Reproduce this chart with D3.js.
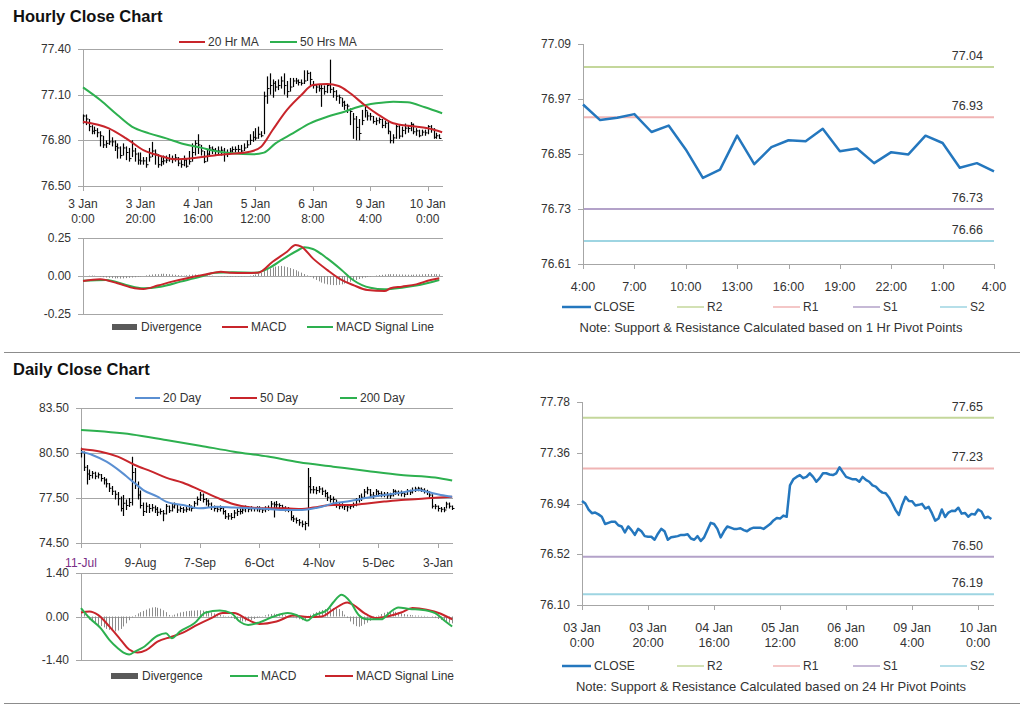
<!DOCTYPE html>
<html>
<head>
<meta charset="utf-8">
<script src="https://cdn.jsdelivr.net/npm/d3@7"></script>
<style>
body { margin: 0; background: #fff; }
svg text { font-family: "Liberation Sans", Arial, sans-serif; fill: #333; }
</style>
</head>
<body>
<svg id="chart" width="1024" height="706"></svg>
<script>
// ---- hourly data (3 Jan 0:00 .. 10 Jan 4:00, trading hours) ----
const hourClose = [76.96,76.94,76.89,76.86,76.865,76.85,76.83,76.77,76.78,76.79,
  76.79,76.76,76.75,76.70,76.75,76.72,76.68,76.73,76.71,76.67,
  76.665,76.665,76.64,76.69,76.73,76.71,76.64,76.66,76.665,76.67,
  76.68,76.68,76.685,76.65,76.64,76.67,76.63,76.66,76.72,76.78,
  76.77,76.73,76.66,76.71,76.75,76.74,76.73,76.73,76.735,76.72,
  76.71,76.73,76.74,76.74,76.74,76.73,76.75,76.77,76.80,76.82,
  76.815,76.84,76.83,77.09,77.14,77.16,77.175,77.15,77.16,77.19,
  77.16,77.12,77.15,77.19,77.19,77.18,77.175,77.19,77.24,77.20,
  77.16,77.15,77.14,77.14,77.12,77.16,77.135,77.12,77.09,77.08,
  77.05,77.03,77.025,76.99,76.94,76.885,76.845,76.93,76.995,76.96,
  76.958,76.924,76.929,76.937,76.898,76.912,76.860,76.798,76.816,76.890,
  76.828,76.865,76.880,76.878,76.905,76.856,76.862,76.830,76.854,76.849,
  76.890,76.874,76.820,76.830,76.812];
const hourHigh = [76.97,76.97,76.94,76.90,76.89,76.88,76.86,76.83,76.80,76.87,
  76.82,76.80,76.78,76.76,76.78,76.76,76.75,76.80,76.75,76.72,
  76.72,76.69,76.69,76.75,76.79,76.74,76.71,76.69,76.70,76.70,
  76.71,76.70,76.71,76.69,76.67,76.70,76.68,76.73,76.78,76.80,
  76.84,76.77,76.73,76.74,76.77,76.76,76.75,76.76,76.76,76.75,
  76.74,76.75,76.76,76.76,76.77,76.77,76.78,76.80,76.84,76.86,
  76.88,76.89,76.86,77.12,77.22,77.24,77.20,77.19,77.20,77.22,
  77.24,77.19,77.21,77.21,77.21,77.20,77.20,77.26,77.26,77.25,
  77.19,77.17,77.17,77.17,77.16,77.17,77.33,77.15,77.13,77.10,
  77.08,77.06,77.04,77.01,76.98,76.96,76.94,77.00,77.02,76.99,
  76.98,76.96,76.95,76.95,76.94,76.93,76.92,76.86,76.84,76.91,
  76.90,76.89,76.91,76.90,76.92,76.91,76.88,76.87,76.87,76.87,
  76.90,76.90,76.88,76.85,76.84];
const hourLow = [76.91,76.90,76.86,76.84,76.84,76.82,76.76,76.75,76.75,76.77,
  76.76,76.73,76.68,76.68,76.70,76.67,76.66,76.69,76.66,76.64,
  76.64,76.64,76.62,76.66,76.69,76.64,76.62,76.63,76.64,76.65,
  76.66,76.65,76.66,76.63,76.62,76.63,76.62,76.64,76.66,76.70,
  76.71,76.70,76.65,76.66,76.70,76.71,76.70,76.71,76.70,76.66,
  76.69,76.71,76.72,76.72,76.72,76.72,76.73,76.75,76.77,76.79,
  76.80,76.81,76.82,76.84,77.04,77.10,77.08,77.12,77.13,77.14,
  77.10,77.08,77.12,77.15,77.17,77.16,77.16,77.17,77.19,77.16,
  77.14,77.11,77.12,77.02,77.10,77.11,77.11,77.08,77.06,77.04,
  77.02,77.00,76.98,76.90,76.81,76.80,76.80,76.90,76.95,76.93,
  76.93,76.91,76.90,76.91,76.88,76.88,76.84,76.78,76.78,76.81,
  76.81,76.82,76.84,76.85,76.86,76.84,76.83,76.82,76.83,76.83,
  76.84,76.85,76.81,76.81,76.81];
const hourMa20 = [[0,76.922],[9,76.879],[15,76.813],[21,76.736],[27,76.697],[32,76.675],
  [38,76.682],[44,76.697],[51,76.71],[58,76.725],[62,76.758],[66,76.868],[71,77.0],
  [76,77.098],[80,77.163],[85,77.17],[89,77.157],[93,77.109],[98,77.032],[103,76.966],
  [108,76.912],[114,76.894],[120,76.879],[125,76.853]];
const hourMa50 = [[0,77.148],[6,77.065],[12,76.966],[17,76.89],[23,76.846],[29,76.813],
  [35,76.776],[41,76.752],[46,76.73],[52,76.715],[59,76.708],[63,76.719],[67,76.78],
  [73,76.846],[79,76.912],[85,76.955],[91,76.988],[96,77.021],[102,77.043],[108,77.054],
  [113,77.05],[119,77.017],[125,76.978]];
const hourMacd = [[0,-0.033],[6,-0.022],[12,-0.048],[18,-0.081],[21,-0.085],[26,-0.063],
  [31,-0.037],[37,-0.011],[43,0.011],[48,0.028],[51,0.022],[57,0.020],[61,0.022],
  [66,0.094],[71,0.16],[74,0.204],[76,0.193],[80,0.116],[85,0.04],[90,-0.026],
  [94,-0.059],[99,-0.092],[105,-0.098],[107,-0.081],[111,-0.07],[116,-0.055],
  [121,-0.026],[124,-0.015]];
const hourSignal = [[0,-0.031],[8,-0.026],[15,-0.059],[21,-0.081],[27,-0.07],[34,-0.037],
  [41,-0.004],[46,0.022],[52,0.024],[60,0.022],[65,0.055],[70,0.116],[75,0.171],
  [77,0.189],[80,0.178],[85,0.116],[90,0.04],[94,-0.026],[100,-0.077],[105,-0.087],
  [111,-0.077],[116,-0.063],[124,-0.026]];
const hourDiverg = [0,0,0.002,0.003,0.002,0,-0.004,-0.008,-0.01,-0.012,
  -0.014,-0.016,-0.015,-0.017,-0.016,-0.014,-0.012,-0.01,-0.008,-0.005,
  -0.003,0,0.004,0.008,0.01,0.012,0.012,0.014,0.015,0.013,
  0.012,0.01,0.008,0.006,0.004,0.002,0.005,0.008,0.009,0.01,
  0.008,0.006,0.004,0.003,0.002,0.002,0,-0.002,-0.003,-0.004,
  -0.004,-0.005,-0.004,-0.004,-0.003,-0.003,-0.002,0,0.002,0.006,
  0.01,0.014,0.02,0.032,0.042,0.05,0.057,0.062,0.065,0.066,
  0.063,0.058,0.052,0.045,0.038,0.03,0.022,0.013,0.004,-0.006,
  -0.016,-0.026,-0.035,-0.043,-0.05,-0.055,-0.058,-0.06,-0.06,-0.058,
  -0.055,-0.05,-0.045,-0.038,-0.032,-0.026,-0.02,-0.015,-0.01,-0.006,
  -0.003,0,0.003,0.006,0.008,0.01,0.012,0.012,0.012,0.011,
  0.01,0.01,0.009,0.009,0.008,0.009,0.01,0.01,0.011,0.012,
  0.013,0.013,0.012,0.012,0.011];
const hourTickIdx = [0, 20, 40, 60, 80, 100, 120];
const hourTickDay = ["3 Jan", "3 Jan", "4 Jan", "5 Jan", "6 Jan", "9 Jan", "10 Jan"];
const hourTickDay2 = ["03 Jan", "03 Jan", "04 Jan", "05 Jan", "06 Jan", "09 Jan", "10 Jan"];
const hourTickTime = ["0:00", "20:00", "16:00", "12:00", "8:00", "4:00", "0:00"];
const hourPriceTicks = [76.50, 76.80, 77.10, 77.40];
const hourMacdTicks = [-0.25, 0, 0.25];

// ---- 1 hr pivot panel (last 24 hours) ----
const pivotStart = 100;
const pivotTickIdx = [0, 3, 6, 9, 12, 15, 18, 21, 24];
const pivotTickLabels = ["4:00", "7:00", "10:00", "13:00", "16:00", "19:00", "22:00", "1:00", "4:00"];
const pivotHourTicks = [76.61, 76.73, 76.85, 76.97, 77.09];
const pivotHourLevels = [77.04, 76.93, 76.73, 76.66];
const pivotDayTicks = [76.10, 76.52, 76.94, 77.36, 77.78];
const pivotDayLevels = [77.65, 77.23, 76.50, 76.19];
const levelNames = ["R2", "R1", "S1", "S2"];

// ---- daily data (11 Jul .. 10 Jan, weekdays) ----
const dayClose = [80.55,79.55,79.10,79.00,79.15,78.95,79.05,78.80,78.70,78.45,
  78.15,77.95,77.75,77.45,76.80,77.15,77.00,77.20,79.20,78.40,
  77.70,77.00,76.60,76.95,76.80,76.85,76.75,76.55,76.60,76.45,
  76.95,76.65,76.90,77.05,76.70,76.80,76.70,76.75,76.95,76.80,
  77.15,77.40,77.70,77.40,77.30,77.10,76.90,76.80,76.75,76.80,
  76.60,76.25,76.30,76.20,76.50,76.60,76.60,76.70,76.85,76.75,
  76.80,76.80,76.80,76.75,76.70,76.75,76.80,77.10,77.05,77.05,
  77.00,76.85,76.75,76.75,76.20,76.10,76.00,75.85,75.75,75.80,
  78.25,78.05,78.05,78.00,78.10,77.95,77.80,77.55,77.40,77.40,
  77.05,76.95,77.00,76.95,76.90,76.95,77.00,77.35,77.45,77.55,
  77.90,78.05,77.70,77.65,77.95,77.80,77.75,77.75,77.65,77.65,
  77.95,77.90,77.85,77.80,77.75,77.95,77.90,78.00,78.10,78.15,
  78.05,77.95,77.90,77.70,76.95,76.95,76.80,76.75,76.70,77.10,
  76.95,76.80];
const dayHigh = [80.85,80.60,79.70,79.40,79.30,79.25,79.20,79.10,78.90,78.80,
  78.50,78.30,78.00,77.90,77.60,77.70,77.40,77.50,80.25,79.50,
  78.60,78.00,77.20,77.20,77.10,77.10,77.00,76.90,76.80,76.70,
  77.10,77.00,77.10,77.20,77.10,76.95,76.90,76.95,77.10,77.00,
  77.30,77.60,77.90,77.80,77.50,77.40,77.20,77.00,76.95,77.00,
  76.90,76.70,76.50,76.50,76.70,76.80,76.80,76.90,77.00,76.95,
  76.95,76.90,76.95,76.95,76.85,76.95,77.00,77.30,77.25,77.30,
  77.15,77.05,76.95,76.90,76.80,76.35,76.20,76.10,76.00,75.95,
  79.50,78.90,78.30,78.25,78.30,78.20,78.05,77.90,77.70,77.60,
  77.40,77.20,77.15,77.10,77.10,77.10,77.20,77.50,77.70,77.80,
  78.10,78.25,78.10,77.90,78.10,78.00,77.95,77.90,77.90,77.85,
  78.10,78.05,78.00,78.00,77.95,78.10,78.05,78.20,78.25,78.25,
  78.20,78.15,78.05,77.95,77.75,77.10,77.00,76.90,76.90,77.25,
  77.20,77.00];
const dayLow = [80.20,79.30,78.40,78.70,78.80,78.75,78.80,78.60,78.40,78.20,
  77.90,77.70,77.40,77.00,76.60,76.30,76.70,76.90,77.00,78.10,
  77.40,76.80,76.30,76.50,76.50,76.60,76.50,76.30,76.40,75.95,
  76.40,76.50,76.60,76.80,76.50,76.55,76.50,76.55,76.65,76.60,
  76.80,77.00,77.30,77.20,77.00,76.90,76.70,76.60,76.55,76.60,
  76.40,76.10,76.05,76.05,76.15,76.30,76.40,76.45,76.55,76.55,
  76.60,76.60,76.60,76.55,76.50,76.55,76.65,76.70,76.20,76.80,
  76.80,76.70,76.60,76.55,76.00,75.90,75.80,75.65,75.55,75.35,
  75.60,77.80,77.80,77.75,77.85,77.70,77.55,77.30,77.20,77.15,
  76.85,76.75,76.80,76.70,76.60,76.75,76.85,76.95,77.20,77.30,
  77.50,77.75,77.50,77.45,77.60,77.60,77.55,77.55,77.45,77.45,
  77.60,77.70,77.65,77.60,77.55,77.70,77.70,77.80,77.90,77.95,
  77.90,77.80,77.70,77.50,76.80,76.75,76.60,76.55,76.55,76.80,
  76.80,76.70];
const dayMa20 = [[0,80.59],[4,80.37],[9,79.92],[14,79.26],[19,78.48],[22,78.03],[27,77.59],
  [30,77.26],[36,77.03],[42,76.81],[48,76.92],[54,76.86],[60,76.81],[66,76.77],[72,76.70],
  [78,76.70],[81,76.77],[85,76.92],[89,77.14],[95,77.30],[101,77.52],[107,77.70],
  [113,77.86],[119,78.03],[122,77.92],[127,77.70],[131,77.59]];
const dayMa50 = [[0,80.77],[7,80.59],[13,80.26],[19,79.70],[25,79.26],[30,78.86],[36,78.52],
  [42,78.03],[48,77.52],[54,77.08],[60,76.86],[66,76.81],[72,76.81],[78,76.77],[82,76.86],
  [89,77.03],[95,77.03],[101,77.14],[107,77.26],[113,77.37],[119,77.43],[125,77.52],[131,77.59]];
const dayMa200 = [[0,82.03],[18,81.74],[30,81.37],[42,80.99],[54,80.59],[66,80.26],[77,79.88],
  [89,79.59],[101,79.30],[113,79.03],[125,78.86],[131,78.66]];
const dayMacd = [[0,0.27],[3,-0.05],[7,-0.38],[10,-0.75],[13,-1.02],[15,-1.16],[17,-1.22],
  [19,-1.13],[22,-0.99],[27,-0.62],[30,-0.54],[32,-0.70],[35,-0.48],[40,-0.22],[44,0.13],
  [49,0.19],[53,0.11],[56,-0.16],[59,-0.27],[63,-0.19],[68,0],[73,0.11],[76,0.05],
  [80,-0.13],[82,0.02],[87,0.22],[89,0.45],[92,0.70],[95,0.48],[98,0.05],[101,-0.09],
  [106,-0.09],[109,0.13],[112,0.29],[116,0.24],[120,0.22],[125,0.11],[128,-0.11],[131,-0.32]];
const daySignal = [[0,0.13],[3,0.16],[6,0.05],[10,-0.32],[14,-0.75],[17,-1.06],[20,-1.16],
  [23,-1.08],[27,-0.81],[32,-0.65],[36,-0.52],[41,-0.27],[46,-0.05],[50,0.11],[54,0.11],
  [59,-0.11],[63,-0.24],[69,-0.16],[75,0.03],[80,-0.02],[85,0],[89,0.22],[94,0.45],
  [96,0.38],[100,0.11],[104,-0.05],[108,0],[113,0.13],[117,0.27],[122,0.22],[127,0.09],[131,-0.09]];
const dayDiverg = [0.12,0.08,-0.02,-0.10,-0.16,-0.22,-0.27,-0.31,-0.35,-0.40,
  -0.43,-0.46,-0.48,-0.45,-0.40,-0.32,-0.22,-0.12,-0.03,0.04,
  0.10,0.14,0.18,0.22,0.26,0.29,0.30,0.28,0.25,0.20,
  0.14,0.05,0.03,0.06,0.10,0.13,0.15,0.17,0.18,0.19,
  0.19,0.20,0.20,0.19,0.18,0.16,0.13,0.10,0.07,0.05,
  0.03,0.01,-0.02,-0.05,-0.08,-0.11,-0.14,-0.16,-0.16,-0.14,
  -0.11,-0.08,-0.05,-0.02,0.01,0.04,0.07,0.08,0.09,0.08,
  0.07,0.06,0.04,0.02,0.0,-0.03,-0.06,-0.09,-0.12,-0.10,
  0.02,0.06,0.10,0.14,0.18,0.21,0.24,0.26,0.27,0.27,
  0.26,0.24,0.18,0.06,-0.05,-0.16,-0.25,-0.31,-0.33,-0.30,
  -0.25,-0.20,-0.14,-0.08,-0.03,0.03,0.08,0.12,0.15,0.16,
  0.16,0.15,0.13,0.10,0.08,0.06,0.05,0.04,0.03,0.03,
  0.02,0.02,0.01,0.0,-0.02,-0.05,-0.08,-0.11,-0.14,-0.17,
  -0.20,-0.22];
const dayTickIdx = [0, 21, 42, 63, 84, 105, 126];
const dayTickLabels = ["11-Jul", "9-Aug", "7-Sep", "6-Oct", "4-Nov", "5-Dec", "3-Jan"];
const dayPriceTicks = [74.50, 77.50, 80.50, 83.50];
const dayMacdTicks = [-1.40, 0, 1.40];

const RED = "#C8252B", GREEN = "#2DB04F", BLUE = "#5A8FD2", CLOSEBLUE = "#2477BE";
const levelColors = ["#C4D79B", "#F0B4B4", "#B3A2C9", "#9ED5E2"];
const GRID = "#A6A6A6";

const svg = d3.select("#chart");
const fmt2 = d3.formatLocale({decimal: ".", thousands: ",", grouping: [3], currency: ["", ""], minus: "-"}).format(".2f");

function leftAxis(g, y, ticks, x0, x1, grid) {
    ticks.forEach(function(t) {
        g.append("line")
            .attr("x1", x0 - 5).attr("x2", grid ? x1 : x0)
            .attr("y1", Math.round(y(t)) + 0.5).attr("y2", Math.round(y(t)) + 0.5)
            .attr("stroke", GRID);
        g.append("text")
            .attr("x", x0 - 12).attr("y", y(t) + 4)
            .attr("text-anchor", "end").attr("font-size", 12)
            .text(fmt2(t));
    });
    g.append("line")
        .attr("x1", x0 + 0.5).attr("x2", x0 + 0.5)
        .attr("y1", y.range()[1]).attr("y2", y.range()[0])
        .attr("stroke", GRID);
}

function bottomTicks(g, x, idx, yBase) {
    idx.forEach(function(i) {
        g.append("line")
            .attr("x1", Math.round(x(i)) + 0.5).attr("x2", Math.round(x(i)) + 0.5)
            .attr("y1", yBase).attr("y2", yBase + 5)
            .attr("stroke", GRID);
    });
}

function legendLine(g, x1, x2, y, color, width, label) {
    g.append("line")
        .attr("x1", x1).attr("x2", x2).attr("y1", y).attr("y2", y)
        .attr("stroke", color).attr("stroke-width", width);
    g.append("text")
        .attr("x", x2 + 3).attr("y", y + 4).attr("font-size", 12)
        .text(label);
}

function legendBox(g, x1, x2, y, label) {
    g.append("rect")
        .attr("x", x1).attr("y", y - 3).attr("width", x2 - x1).attr("height", 6)
        .attr("fill", "#595959");
    g.append("text")
        .attr("x", x2 + 4).attr("y", y + 4).attr("font-size", 12)
        .text(label);
}

function drawLine(g, x, y, pts, color, width) {
    g.append("path")
        .datum(pts)
        .attr("fill", "none")
        .attr("stroke", color)
        .attr("stroke-width", width)
        .attr("stroke-linejoin", "round")
        .attr("d", d3.line().x(d => x(d[0])).y(d => y(d[1])).curve(d3.curveMonotoneX));
}

function drawBars(g, x, y, close, high, low) {
    const bars = g.append("g").attr("class", "bars");
    close.forEach(function(c, i) {
        const bx = Math.round(x(i)) + 0.5;
        bars.append("line")
            .attr("x1", bx).attr("x2", bx)
            .attr("y1", y(high[i])).attr("y2", y(low[i]))
            .attr("stroke", "#000").attr("stroke-width", 1.2);
        bars.append("line")
            .attr("x1", bx).attr("x2", bx + 2)
            .attr("y1", y(c)).attr("y2", y(c))
            .attr("stroke", "#000");
    });
}

function drawDiverg(g, x, y, values) {
    values.forEach(function(v, i) {
        const bx = Math.round(x(i)) + 0.5;
        g.append("line")
            .attr("x1", bx).attr("x2", bx)
            .attr("y1", y(0)).attr("y2", y(v))
            .attr("stroke", "#8C8C8C");
    });
}

function title(text, y) {
    svg.append("text")
        .attr("x", 13).attr("y", y)
        .attr("font-size", 16.5).attr("font-weight", "bold")
        .style("fill", "#111")
        .text(text);
}

// ================= hourly close chart =================
title("Hourly Close Chart", 22);
{
    const g = svg.append("g");
    const x = d3.scaleLinear().domain([0, 125.3]).range([83, 443]);
    const y = d3.scaleLinear().domain([76.5, 77.4]).range([186, 49]);

    leftAxis(g, y, hourPriceTicks, 83, 443, true);
    bottomTicks(g, x, hourTickIdx, 186);
    hourTickIdx.forEach(function(i, k) {
        const t = g.append("text").attr("text-anchor", "middle").attr("font-size", 12);
        t.append("tspan").attr("x", x(i)).attr("y", 208).text(hourTickDay[k]);
        t.append("tspan").attr("x", x(i)).attr("y", 223).text(hourTickTime[k]);
    });

    drawBars(g, x, y, hourClose, hourHigh, hourLow);
    drawLine(g, x, y, hourMa50, GREEN, 2);
    drawLine(g, x, y, hourMa20, RED, 2);

    legendLine(g, 179, 205, 42, RED, 2, "20 Hr MA");
    legendLine(g, 270, 297, 42, GREEN, 2, "50 Hrs MA");

    // macd
    const ym = d3.scaleLinear().domain([-0.25, 0.25]).range([314, 238]);
    leftAxis(g, ym, hourMacdTicks, 83, 443, true);
    drawDiverg(g, x, ym, hourDiverg);
    drawLine(g, x, ym, hourSignal, GREEN, 2);
    drawLine(g, x, ym, hourMacd, RED, 2);

    legendBox(g, 112, 137, 327, "Divergence");
    legendLine(g, 222, 248, 327, RED, 2, "MACD");
    legendLine(g, 307, 333, 327, GREEN, 2, "MACD Signal Line");
}

// ================= pivot panels =================
function pivotPanel(opts) {
    const g = svg.append("g");
    const x = d3.scaleLinear().domain(opts.xDomain).range([opts.x0, 994]);
    const y = d3.scaleLinear().domain([opts.ticks[0], opts.ticks[opts.ticks.length - 1]])
        .range([opts.yBottom, opts.yTop]);

    leftAxis(g, y, opts.ticks, opts.x0, 994, false);
    g.append("line")
        .attr("x1", opts.x0).attr("x2", 994)
        .attr("y1", opts.yBottom + 0.5).attr("y2", opts.yBottom + 0.5)
        .attr("stroke", GRID);
    bottomTicks(g, x, opts.tickIdx, opts.yBottom);
    opts.tickIdx.forEach(function(i, k) {
        const t = g.append("text").attr("text-anchor", "middle").attr("font-size", 12.5);
        opts.tickLines.forEach(function(lines, r) {
            t.append("tspan").attr("x", x(i)).attr("y", opts.labelY + r * 15).text(lines[k]);
        });
    });

    opts.levels.forEach(function(v, k) {
        g.append("line")
            .attr("x1", opts.x0 + 1).attr("x2", 994)
            .attr("y1", y(v)).attr("y2", y(v))
            .attr("stroke", levelColors[k]).attr("stroke-width", 2);
        g.append("text")
            .attr("x", 983).attr("y", y(v) - 7)
            .attr("text-anchor", "end").attr("font-size", 12.5)
            .text(fmt2(v));
    });

    g.append("path")
        .datum(opts.close)
        .attr("fill", "none")
        .attr("stroke", CLOSEBLUE)
        .attr("stroke-width", 2.5)
        .attr("stroke-linejoin", "round")
        .attr("d", d3.line().x((d, i) => x(i)).y(d => y(d)));

    const ly = opts.legendY;
    legendLine(g, 562, 591, ly, CLOSEBLUE, 2.5, "CLOSE");
    legendLine(g, 677, 704, ly, levelColors[0], 1.5, levelNames[0]);
    legendLine(g, 773, 800, ly, levelColors[1], 1.5, levelNames[1]);
    legendLine(g, 853, 880, ly, levelColors[2], 1.5, levelNames[2]);
    legendLine(g, 940, 967, ly, levelColors[3], 1.5, levelNames[3]);

    g.append("text")
        .attr("x", 771).attr("y", ly + 25)
        .attr("text-anchor", "middle").attr("font-size", 13)
        .text(opts.note);
}

pivotPanel({
    x0: 583, yTop: 44, yBottom: 264, xDomain: [0, 24],
    ticks: pivotHourTicks, levels: pivotHourLevels,
    close: hourClose.slice(pivotStart),
    tickIdx: pivotTickIdx, tickLines: [pivotTickLabels], labelY: 291,
    legendY: 307,
    note: "Note: Support & Resistance Calculated based on 1 Hr Pivot Points"
});

pivotPanel({
    x0: 582, yTop: 402, yBottom: 605, xDomain: [0, 124.8],
    ticks: pivotDayTicks, levels: pivotDayLevels,
    close: hourClose,
    tickIdx: hourTickIdx, tickLines: [hourTickDay2, hourTickTime], labelY: 632,
    legendY: 666,
    note: "Note: Support & Resistance Calculated based on 24 Hr Pivot Points"
});

// separators
[352, 703].forEach(function(sy) {
    svg.append("line")
        .attr("x1", 4).attr("x2", 1020).attr("y1", sy + 0.5).attr("y2", sy + 0.5)
        .attr("stroke", "#8C8C8C").attr("stroke-width", 1.2);
});

// ================= daily close chart =================
title("Daily Close Chart", 375);
{
    const g = svg.append("g");
    const x = d3.scaleLinear().domain([0, 131.3]).range([81, 453]);
    const y = d3.scaleLinear().domain([74.5, 83.5]).range([543, 408]);

    leftAxis(g, y, dayPriceTicks, 81, 453, true);
    bottomTicks(g, x, dayTickIdx, 543);
    dayTickIdx.forEach(function(i, k) {
        g.append("text")
            .attr("x", x(i)).attr("y", 567)
            .attr("text-anchor", "middle").attr("font-size", 12)
            .style("fill", k === 0 ? "#7A2D86" : "#333")
            .text(dayTickLabels[k]);
    });

    drawBars(g, x, y, dayClose, dayHigh, dayLow);
    drawLine(g, x, y, dayMa200, GREEN, 2);
    drawLine(g, x, y, dayMa50, RED, 2);
    drawLine(g, x, y, dayMa20, BLUE, 2);

    legendLine(g, 135, 160, 398, BLUE, 2, "20 Day");
    legendLine(g, 230, 257, 398, RED, 2, "50 Day");
    legendLine(g, 340, 357, 398, GREEN, 2, "200 Day");

    const ym = d3.scaleLinear().domain([-1.4, 1.4]).range([660, 573]);
    leftAxis(g, ym, dayMacdTicks, 81, 453, true);
    drawDiverg(g, x, ym, dayDiverg);
    drawLine(g, x, ym, daySignal, RED, 2);
    drawLine(g, x, ym, dayMacd, GREEN, 2);

    legendBox(g, 111, 138, 676, "Divergence");
    legendLine(g, 230, 258, 676, GREEN, 2, "MACD");
    legendLine(g, 325, 353, 676, RED, 2, "MACD Signal Line");
}
</script>
</body>
</html>
